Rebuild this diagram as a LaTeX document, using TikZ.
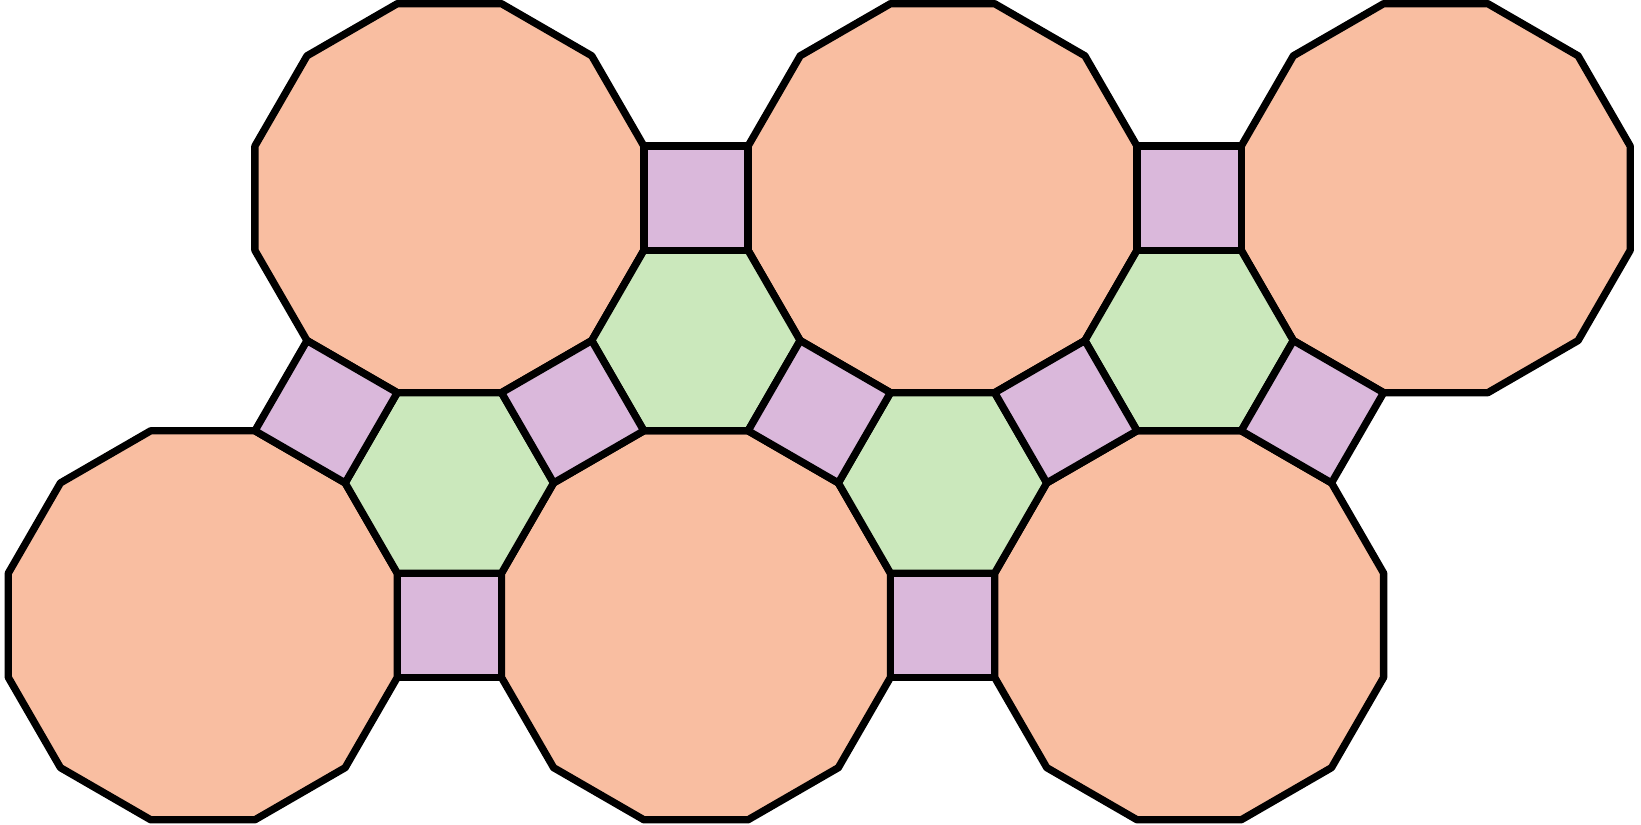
\documentclass[tikz,border=0pt]{standalone}
\usepackage{xcolor}
\definecolor{salmon}{HTML}{F9BEA1}
\definecolor{lilac}{HTML}{DAB8DB}
\definecolor{mint}{HTML}{CBE8BC}
\definecolor{ink}{HTML}{000000}
\usetikzlibrary{calc}
\tikzset{
  every picture/.style={line width=2pt, line join=round},
  tile/.style={draw=ink},
  dodeca/.style={tile, fill=salmon},
  hexa/.style={tile, fill=mint},
  quad/.style={tile, fill=lilac},
}

\begin{document}
\begin{tikzpicture}
  \useasboundingbox (-1.946,-1.908) rectangle (13.80,6.000);
  \pgfmathsetmacro{\R}{1/(2*sin(15))}

  % dodecagon centres on a triangular lattice
  \coordinate (bl) at (0,0);
  \coordinate (bm) at (4.7321,0);
  \coordinate (br) at (9.4641,0);
  \coordinate (tl) at (2.3660,4.0981);
  \coordinate (tm) at (7.0981,4.0981);
  \coordinate (tr) at (11.8301,4.0981);

  \foreach \c in {bl,bm,br,tl,tm,tr}
    \draw[dodeca, shift={(\c)}] (15:\R) \foreach \k in {1,...,11} {-- (15+30*\k:\R)} -- cycle;

  \foreach \p/\q/\r in {bl/bm/tl, tl/tm/bm, bm/br/tm, tm/tr/br}
    \draw[hexa, shift={(barycentric cs:\p=1,\q=1,\r=1)}] (0:1) \foreach \k in {1,...,5} {-- (60*\k:1)} -- cycle;

  \foreach \p/\q/\a in {tl/tm/45, tm/tr/45, bl/bm/45, bm/br/45, bl/tl/15, tl/bm/75, bm/tm/15, tm/br/75, br/tr/15}
    \draw[quad, shift={($(\p)!0.5!(\q)$)}] (\a:0.7071) -- (\a+90:0.7071) -- (\a+180:0.7071) -- (\a+270:0.7071) -- cycle;
\end{tikzpicture}
\end{document}
